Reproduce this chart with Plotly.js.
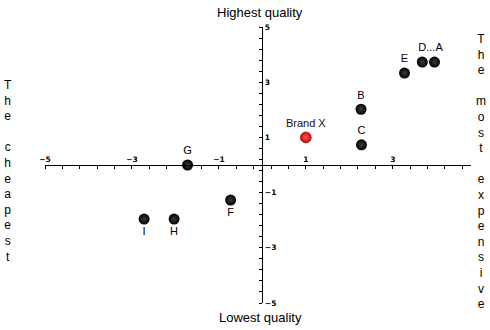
<!DOCTYPE html>
<html>
<head>
<meta charset="utf-8">
<script src="https://cdn.plot.ly/plotly-3.0.1.min.js"></script>
<style>html,body{margin:0;padding:0;background:#fff;}#chart{width:490px;height:330px;}</style>
</head>
<body>
<div id="chart"></div>
<script>
// Data
const brands   = ['A', 'B', 'C', 'D', 'E', 'F', 'G', 'H', 'I'];
const price    = [3.96, 2.27, 2.28, 3.68, 3.27, -0.73, -1.72, -2.03, -2.72];
const quality  = [3.73, 2.02, 0.73, 3.73, 3.33, -1.27, 0.0, -1.96, -1.96];
const brandLabels = ['...A', 'B', 'C', 'D', 'E', 'F', 'G', 'H', 'I'];

const focusName    = ['Brand X'];
const focusPrice   = [1.0];
const focusQuality = [1.0];

const xTickVals = [-5, -3, -1, 1, 3];
const yTickVals = [-5, -3, -1, 1, 3, 5];

// Layout settings
const xRange = [-5, 4.8];
const yRange = [-5, 5];
const labelPos = ['top center', 'top center', 'top center', 'top center', 'top center',
                  'bottom center', 'top center', 'bottom center', 'bottom center'];

const font = 'Liberation Sans, Arial, sans-serif';
const tickFont = {family: 'DejaVu Sans, Verdana, sans-serif', size: 7.5, color: '#000', weight: 'bold'};

const traces = [
  {
    type: 'scatter', mode: 'markers+text',
    x: price, y: quality, text: brandLabels, textposition: labelPos,
    textfont: {family: font, size: 11, color: '#000'},
    marker: {size: 11, color: '#000', gradient: {type: 'radial', color: '#3c3c3c'}, line: {width: 0}},
    hoverinfo: 'text', showlegend: false, cliponaxis: false
  },
  {
    type: 'scatter', mode: 'markers+text',
    x: focusPrice, y: focusQuality, text: focusName, textposition: ['top center'],
    textfont: {family: font, size: 11, color: '#111'},
    marker: {size: 11, color: '#d00000', gradient: {type: 'radial', color: '#ff6060'}, line: {width: 0.5, color: '#600'}},
    hoverinfo: 'text', showlegend: false, cliponaxis: false
  }
];

const xZeroFrac = (0 - yRange[0]) / (yRange[1] - yRange[0]);
const yZeroFrac = (0 - xRange[0]) / (xRange[1] - xRange[0]);

const stack = s => s.split('').map(c => c === ' ' ? '&nbsp;' : c).join('<br>');

const layout = {
  width: 490, height: 330,
  margin: {l: 45, r: 19, t: 27, b: 27, pad: 0},
  paper_bgcolor: '#fff', plot_bgcolor: '#fff',
  font: {family: font, color: '#000'},
  xaxis: {
    range: xRange, anchor: 'free', position: xZeroFrac,
    showgrid: false, zeroline: false, showline: true, linecolor: '#000', linewidth: 1,
    tickmode: 'array', tickvals: xTickVals,
    ticks: 'outside', ticklen: 3, tickwidth: 1, tickcolor: '#000',
    ticklabelposition: 'inside', ticklabeloverflow: 'allow', tickfont: tickFont,
    minor: {tick0: -5, dtick: 0.4, ticks: 'outside', ticklen: 3, tickcolor: '#000', showgrid: false}
  },
  yaxis: {
    range: yRange, anchor: 'free', position: yZeroFrac,
    showgrid: false, zeroline: false, showline: true, linecolor: '#000', linewidth: 1,
    tickmode: 'array', tickvals: yTickVals,
    ticks: 'outside', ticklen: 3, tickwidth: 1, tickcolor: '#000',
    ticklabelposition: 'inside', ticklabeloverflow: 'allow', tickfont: tickFont,
    minor: {tick0: -5, dtick: 0.4, ticks: 'outside', ticklen: 3, tickcolor: '#000', showgrid: false}
  },
  annotations: [
    {text: 'Highest quality', xref: 'paper', yref: 'paper', x: 0.5047, y: 1.054,
     xanchor: 'center', yanchor: 'middle', showarrow: false, font: {family: font, size: 13, color: '#000'}},
    {text: 'Lowest quality', xref: 'paper', yref: 'paper', x: 0.5047, y: -0.051,
     xanchor: 'center', yanchor: 'middle', showarrow: false, font: {family: font, size: 13, color: '#000'}},
    {text: stack('The cheapest'), xref: 'paper', yref: 'paper', x: -0.087, y: 0.478,
     xanchor: 'center', yanchor: 'middle', showarrow: false, font: {family: font, size: 12, color: '#000'}},
    {text: stack('The most expensive'), xref: 'paper', yref: 'paper', x: 1.0235, y: 0.475,
     xanchor: 'center', yanchor: 'middle', showarrow: false, font: {family: font, size: 12, color: '#000'}}
  ]
};

Plotly.newPlot('chart', traces, layout, {displayModeBar: false, staticPlot: true});
</script>
</body>
</html>
